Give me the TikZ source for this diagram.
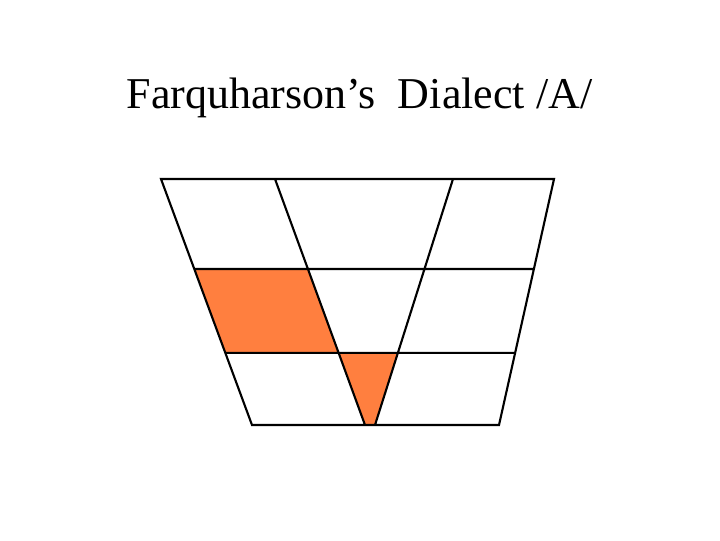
\documentclass[tikz,border=0pt]{standalone}
\usepackage{fontspec}
\setmainfont{Liberation Serif}
\usetikzlibrary{calc}
\definecolor{vowel}{RGB}{255,127,63}

\begin{document}
\begin{tikzpicture}[x=0.025cm,y=-0.025cm,line width=1.5pt]
	\useasboundingbox (0,0) rectangle (720,540);
	\path
	(161,179) coordinate (TL) (554,179) coordinate (TR)
	(252,425) coordinate (BL) (499,425) coordinate (BR)
	(275,179) coordinate (P) (365,425) coordinate (Q)
	(453,179) coordinate (R) (375,425) coordinate (S);
	\foreach \n/\f in {1/0.366,2/0.707} \path
	($(TL)!\f!(BL)$) coordinate (L\n)
	($(P)!\f!(Q)$) coordinate (P\n)
	($(R)!\f!(S)$) coordinate (R\n)
	($(TR)!\f!(BR)$) coordinate (E\n);
	\fill[vowel] (L1) -- (P1) -- (P2) -- (L2) -- cycle;
	\fill[vowel] (P2) -- (R2) -- (S) -- (Q) -- cycle;
	\draw
	(TL) -- (TR) -- (BR) -- (BL) -- cycle
	(P) -- (Q) (R) -- (S)
	(L1) -- (E1) (L2) -- (E2);
	\node[anchor=base,font=\fontsize{31.3}{36}\selectfont] (title) at (359.5,108) {Farquharson’s\hspace{0.5em}Dialect /A/};
\end{tikzpicture}
\end{document}
